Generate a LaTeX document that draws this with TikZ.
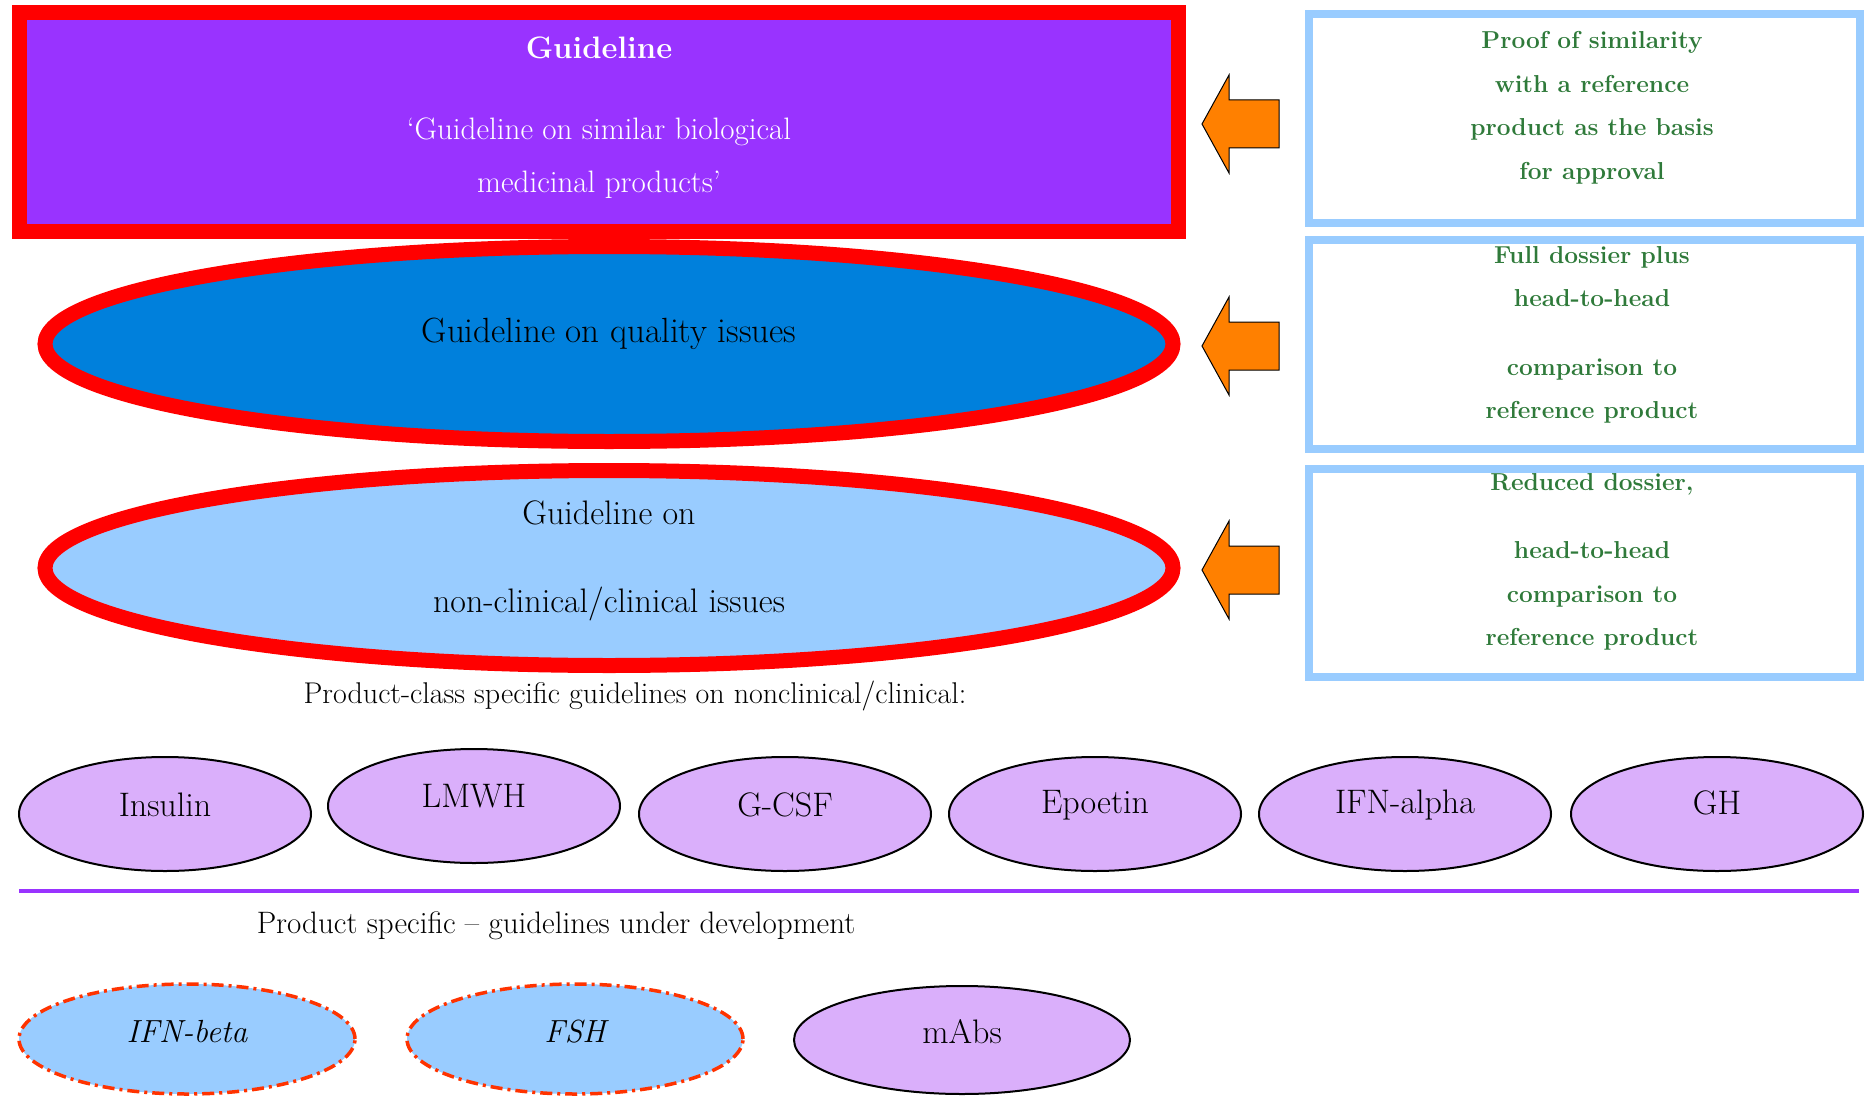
\documentclass[tikz,border=0pt]{standalone}
\usetikzlibrary{shapes.geometric}
\definecolor{gpurple}{HTML}{9933FF}
\definecolor{gred}{HTML}{FF0000}
\definecolor{gblue}{HTML}{0080DC}
\definecolor{lblue}{HTML}{99CCFF}
\definecolor{gorange}{HTML}{FF8000}
\definecolor{ggreen}{HTML}{2F7A3A}
\definecolor{lav}{HTML}{DAAFFB}
\definecolor{dashred}{HTML}{FF3300}
\begin{document}
\begin{tikzpicture}[x=1pt,y=-1pt,
  bigellipse/.style={ellipse,draw=gred,line width=15pt,minimum width=1128pt,minimum height=195pt,inner sep=0pt},
  infobox/.style={rectangle,draw=lblue,line width=8pt,minimum width=551pt,minimum height=209pt,inner sep=0pt},
  greentext/.style={text=ggreen,align=center,font=\fontsize{24.5}{43.5}\selectfont\bfseries},
  smallell/.style={ellipse,draw=black,line width=2pt,fill=lav,minimum width=292pt,minimum height=114pt,inner sep=0pt},
  devell/.style={ellipse,draw=dashred,line width=3.5pt,dash pattern=on 12pt off 5pt on 3pt off 5pt,fill=lblue,minimum width=336pt,minimum height=110pt,inner sep=0pt},
  plaintext/.style={font=\fontsize{34}{40}\selectfont,inner sep=0pt},
  leftarrow/.pic={\draw[fill=gorange,draw=black,line width=1pt] (-38,0) -- (-11,-49) -- (-11,-24) -- (39,-24) -- (39,24) -- (-11,24) -- (-11,49) -- cycle;}
]
\useasboundingbox (0,0) rectangle (1871,1097);
\fill[white] (0,0) rectangle (1871,1097);

% top guideline box
\node[rectangle,draw=gred,fill=gpurple,line width=15pt,minimum width=1159pt,minimum height=218pt,inner sep=0pt] (top) at (598.5,122) {};
\node[text=white,font=\fontsize{31}{36}\selectfont\bfseries,inner sep=0pt] (toptitle) at (599,48) {Guideline};
\node[text=white,align=center,font=\fontsize{31}{53}\selectfont,inner sep=0pt] (topsub) at (599,158) {`Guideline on similar biological\\medicinal products'};

% big ellipses
\node[bigellipse,fill=gblue] (quality) at (609,344) {};
\node[plaintext,font=\fontsize{35}{40}\selectfont] (qualitytext) at (609,334) {Guideline on quality issues};
\node[bigellipse,fill=lblue] (clinical) at (609,568) {};
\node[plaintext,align=center,font=\fontsize{34}{88}\selectfont] (clinicaltext) at (609,561) {Guideline on\\non-clinical/clinical issues};

% right boxes
\node[infobox] (box1) at (1584.5,118.5) {};
\node[infobox] (box2) at (1584.5,344.5) {};
\node[infobox,minimum height=208pt] (box3) at (1584.5,573) {};
\node[greentext] (t1) at (1592,108) {Proof of similarity\\with a reference\\product as the basis\\for approval};
\node[greentext] (t2) at (1592,335) {Full dossier plus\\head-to-head\\[25pt]comparison to\\reference product};
\node[greentext] (t3) at (1592,562) {Reduced dossier,\\[25pt]head-to-head\\comparison to\\reference product};

% arrows
\pic at (1240,124) {leftarrow};
\pic at (1240,346) {leftarrow};
\pic at (1240,570) {leftarrow};

% product-class row
\node[plaintext,font=\fontsize{30}{34}\selectfont] (classlabel) at (635,696) {Product-class specific guidelines on nonclinical/clinical:};
\node[smallell] (insulin) at (165,814) {};
\node[smallell] (lmwh) at (474,806) {};
\node[smallell] (gcsf) at (785,814) {};
\node[smallell] (epoetin) at (1095,814) {};
\node[smallell] (ifna) at (1405,814) {};
\node[smallell] (gh) at (1717,814) {};
\node[plaintext] at (165,805) {Insulin};
\node[plaintext] at (474,796) {LMWH};
\node[plaintext] at (785,805) {G-CSF};
\node[plaintext] at (1095,805) {Epoetin};
\node[plaintext] at (1405,805) {IFN-alpha};
\node[plaintext] at (1717,803) {GH};

% divider
\coordinate (divl) at (19,891);
\coordinate (divr) at (1859,891);
\draw[gpurple,line width=4pt] (divl) -- (divr);

\node[plaintext,font=\fontsize{31}{34}\selectfont] (devlabel) at (556,926) {Product specific -- guidelines under development};

% development row
\node[devell] (ifnb) at (187,1039) {};
\node[devell] (fsh) at (575,1039) {};
\node[smallell,minimum width=336pt,minimum height=108pt] (mabs) at (962,1040) {};
\node[plaintext,font=\fontsize{32}{38}\selectfont\itshape] at (187,1032) {IFN-beta};
\node[plaintext,font=\fontsize{32}{38}\selectfont\itshape] at (575,1032) {FSH};
\node[plaintext] at (962,1032) {mAbs};
\end{tikzpicture}
\end{document}
